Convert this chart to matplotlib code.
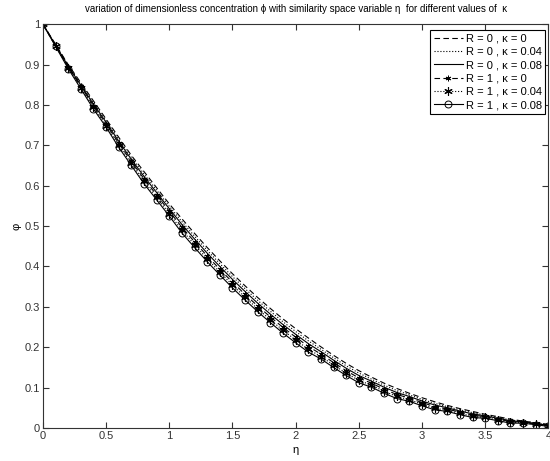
import numpy as np
import matplotlib
matplotlib.use("Agg")
import matplotlib.pyplot as plt

plt.rcParams["font.family"] = ["Liberation Sans", "DejaVu Sans"]

# similarity variable, sampled every 0.1
eta = np.linspace(0, 4, 41)

# concentration profiles
phi_R0_k0 = [1.000, 0.950, 0.900, 0.855, 0.810, 0.765, 0.720, 0.675, 0.635, 0.595, 0.555,
             0.518, 0.482, 0.447, 0.414, 0.382, 0.352, 0.323, 0.296, 0.270, 0.246,
             0.223, 0.201, 0.180, 0.160, 0.142, 0.126, 0.111, 0.098, 0.086, 0.075,
             0.065, 0.056, 0.048, 0.041, 0.034, 0.028, 0.022, 0.017, 0.013, 0.009]
phi_R0_k004 = [1.000, 0.949, 0.898, 0.852, 0.806, 0.761, 0.715, 0.670, 0.629, 0.589, 0.549,
               0.511, 0.475, 0.440, 0.407, 0.375, 0.345, 0.316, 0.289, 0.263, 0.239,
               0.216, 0.195, 0.174, 0.154, 0.136, 0.121, 0.106, 0.093, 0.082, 0.071,
               0.061, 0.053, 0.045, 0.038, 0.032, 0.026, 0.020, 0.016, 0.012, 0.008]
phi_R0_k008 = [1.000, 0.948, 0.896, 0.849, 0.802, 0.757, 0.710, 0.665, 0.623, 0.583, 0.543,
               0.504, 0.468, 0.433, 0.400, 0.368, 0.338, 0.309, 0.282, 0.256, 0.232,
               0.209, 0.189, 0.168, 0.148, 0.130, 0.116, 0.101, 0.088, 0.078, 0.067,
               0.057, 0.050, 0.042, 0.035, 0.030, 0.024, 0.018, 0.015, 0.011, 0.007]
phi_R1_k0 = [1.000, 0.947, 0.894, 0.846, 0.798, 0.753, 0.705, 0.660, 0.617, 0.577, 0.537,
             0.497, 0.461, 0.426, 0.393, 0.361, 0.331, 0.302, 0.275, 0.249, 0.225,
             0.202, 0.183, 0.162, 0.142, 0.124, 0.111, 0.096, 0.083, 0.074, 0.063,
             0.053, 0.047, 0.039, 0.032, 0.028, 0.022, 0.016, 0.014, 0.010, 0.006]
phi_R1_k004 = [1.000, 0.946, 0.892, 0.843, 0.794, 0.749, 0.700, 0.655, 0.611, 0.571, 0.531,
               0.490, 0.454, 0.419, 0.386, 0.354, 0.324, 0.295, 0.268, 0.242, 0.218,
               0.195, 0.177, 0.156, 0.136, 0.118, 0.106, 0.091, 0.078, 0.070, 0.059,
               0.049, 0.044, 0.036, 0.029, 0.026, 0.020, 0.014, 0.013, 0.009, 0.005]
phi_R1_k008 = [1.000, 0.945, 0.890, 0.840, 0.790, 0.745, 0.695, 0.650, 0.605, 0.565, 0.525,
               0.483, 0.447, 0.412, 0.379, 0.347, 0.317, 0.288, 0.261, 0.235, 0.211,
               0.188, 0.171, 0.150, 0.130, 0.112, 0.101, 0.086, 0.073, 0.066, 0.055,
               0.045, 0.041, 0.033, 0.026, 0.024, 0.018, 0.012, 0.012, 0.008, 0.004]

labels = ["R = 0 , κ = 0", "R = 0 , κ = 0.04", "R = 0 , κ = 0.08",
          "R = 1 , κ = 0", "R = 1 , κ = 0.04", "R = 1 , κ = 0.08"]

fig = plt.figure(figsize=(5.5, 4.61), dpi=100)
ax = fig.add_axes([0.078, 0.0716, 0.919, 0.876])

lw = 0.8
asterisk = (6, 2, 0)
ax.plot(eta, phi_R0_k0, "k--", dashes=(5, 3), lw=lw, label=labels[0])
ax.plot(eta, phi_R0_k004, "k:", lw=lw, label=labels[1])
ax.plot(eta, phi_R0_k008, "k-", lw=lw, label=labels[2])
ax.plot(eta, phi_R1_k0, "k--", dashes=(5, 3), marker=asterisk, ms=4, mew=0.7, lw=lw, label=labels[3])
ax.plot(eta, phi_R1_k004, "k:", marker=asterisk, ms=6, mew=0.8, lw=lw, label=labels[4])
ax.plot(eta, phi_R1_k008, "k-", marker="o", ms=5, mfc="none", mew=0.7, lw=lw, label=labels[5])

ax.set_xlim(0, 4)
ax.set_ylim(0, 1)
ax.set_xticks([0, 0.5, 1, 1.5, 2, 2.5, 3, 3.5, 4])
ax.set_xticklabels(["0", "0.5", "1", "1.5", "2", "2.5", "3", "3.5", "4"])
ax.set_yticks(np.arange(0, 1.01, 0.1))
ax.set_yticklabels(["0", "0.1", "0.2", "0.3", "0.4", "0.5", "0.6", "0.7", "0.8", "0.9", "1"])
ax.tick_params(direction="in", top=True, right=True, length=4, width=0.8,
               labelsize=8, pad=2, colors="#333333")
for s in ax.spines.values():
    s.set_linewidth(0.8)
    s.set_color("#333333")

ax.set_xlabel("η", fontsize=8, labelpad=3)
ax.set_ylabel("φ", fontsize=8, labelpad=2)
ax.set_title("variation of dimensionless concentration ϕ with similarity space variable η  for different values of  κ",
             fontsize=7, pad=9)

leg = ax.legend(loc="upper right", bbox_to_anchor=(0.994, 0.985), borderaxespad=0,
                fontsize=8, handlelength=2.6, labelspacing=0.3, handletextpad=0.3,
                borderpad=0.3, fancybox=False, framealpha=1)
leg.get_frame().set_edgecolor("black")
leg.get_frame().set_linewidth(0.8)

fig.savefig("out.png", dpi=100)
